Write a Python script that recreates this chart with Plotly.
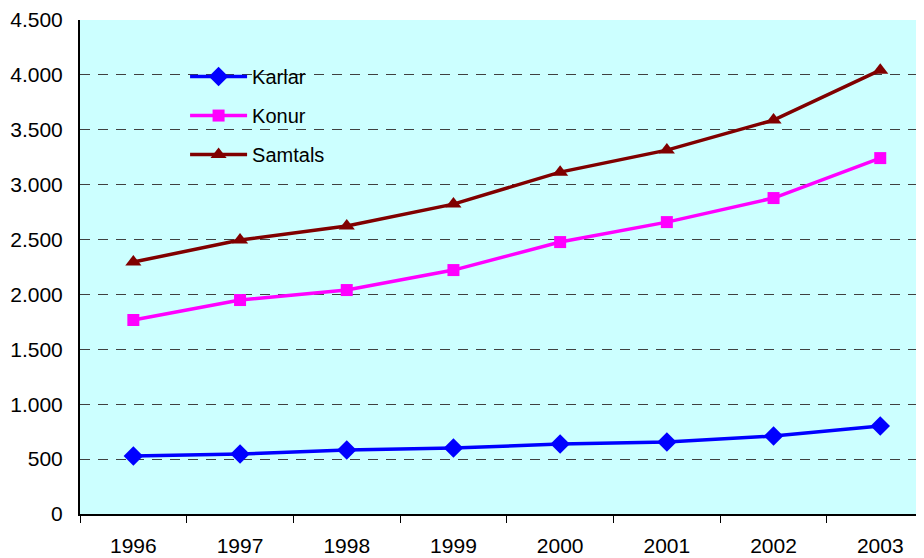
import plotly.graph_objects as go

years = ["1996", "1997", "1998", "1999", "2000", "2001", "2002", "2003"]
karlar = [528, 546, 583, 601, 637, 656, 710, 801]
konur = [1767, 1949, 2040, 2222, 2477, 2659, 2878, 3242]
samtals = [2295, 2495, 2623, 2823, 3114, 3315, 3588, 4043]
y_ticks = [0, 500, 1000, 1500, 2000, 2500, 3000, 3500, 4000, 4500]
y_labels = ["0", "500", "1.000", "1.500", "2.000", "2.500", "3.000", "3.500", "4.000", "4.500"]

fig = go.Figure()
series = [
    ("Karlar", karlar, "#0000FF", "diamond", 15),
    ("Konur", konur, "#FF00FF", "square", 12),
    ("Samtals", samtals, "#800000", "triangle-up", 14),
]
for i, (name, vals, col, sym, sz) in enumerate(series):
    fig.add_trace(go.Scatter(
        x=years, y=vals, name=name, mode="lines+markers",
        line=dict(color=col, width=3.5),
        marker=dict(color=col, symbol=sym, size=sz),
        legendgroup=name,
    ))

fig.update_layout(
    width=916, height=550,
    margin=dict(l=72, r=0, t=12, b=44),
    paper_bgcolor="white",
    plot_bgcolor="#CCFFFF",
    font=dict(family="Liberation Sans, Arial", size=20, color="black"),
    legend=dict(
        x=0.1245, y=0.925, xanchor="left", yanchor="top",
        bgcolor="rgba(0,0,0,0)", font=dict(size=20),
        tracegroupgap=10, itemwidth=57,
    ),
    showlegend=True,
)
fig.update_xaxes(
    type="category", range=[-0.5, 7.41],
    showline=True, linecolor="black", linewidth=2,
    ticks="outside", tickson="boundaries", ticklen=7, tickcolor="black", tickwidth=1,
    showgrid=False, ticklabelstandoff=12, automargin=False,
    tickfont=dict(size=21),
)
fig.update_yaxes(
    range=[0, 4500], tickvals=y_ticks, ticktext=y_labels,
    showline=True, linecolor="black", linewidth=2,
    showgrid=True, gridcolor="#404040", griddash="10px,8px", gridwidth=1,
    zeroline=False, ticks="", ticklabelstandoff=11, automargin=False,
    tickfont=dict(size=21),
)
fig.write_html("out.html")
